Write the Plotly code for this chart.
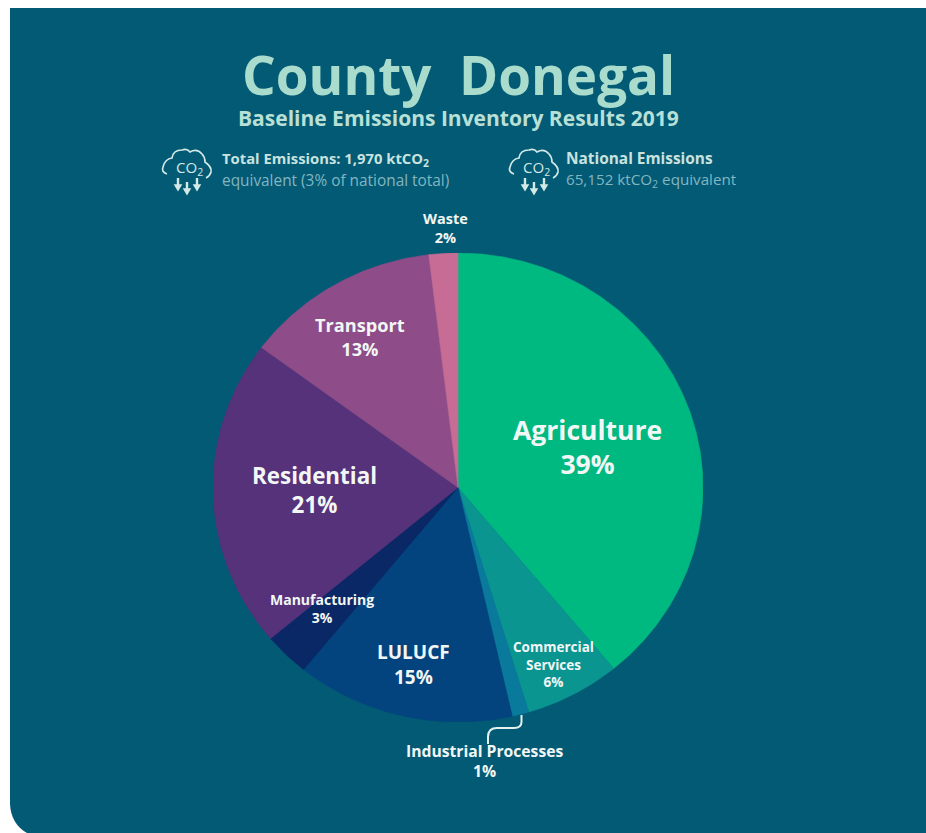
import numpy as np
import plotly.graph_objects as go

W, H = 926, 833
sectors = ["Agriculture", "Commercial Services", "Industrial Processes", "LULUCF",
           "Manufacturing", "Residential", "Transport", "Waste"]
slice_values = [39.0, 6.3, 1.1, 14.4, 3.0, 21.3, 12.9, 1.9]
printed_pct = ["39%", "6%", "1%", "15%", "3%", "21%", "13%", "2%"]
colors = ["#00b981", "#0a9590", "#0a7a9c", "#03447f", "#0a2766", "#56327a", "#8e4c88", "#c76c94"]
BG = "#025a75"
INK = "#f2f7f6"


def px(x):
    return x / W


def py(y):
    return 1 - y / H


def path(s):
    """Decoration path in pixel coordinates -> paper coordinates."""
    out, i, toks = [], 0, s.split()
    while i < len(toks):
        t = toks[i]
        if t.isalpha():
            out.append(t)
            i += 1
        else:
            out.append(f"{px(float(t)):.5f},{py(float(toks[i + 1])):.5f}")
            i += 2
    return " ".join(out)


# The reference pie is slightly wider than tall, so it is drawn on a unit circle
# whose axes are stretched to the pie's box.
cx, cy, rx, ry = 458, 487.5, 245, 234.5
edges = np.cumsum([0] + slice_values) / sum(slice_values) * 2 * np.pi
fig = go.Figure()
for name, pct, col, a, b in zip(sectors, printed_pct, colors, edges[:-1], edges[1:]):
    t = np.linspace(a, b, max(3, int((b - a) / 0.008)))
    fig.add_trace(go.Scatter(
        x=np.r_[0, np.sin(t), 0], y=np.r_[0, np.cos(t), 0], mode="lines", fill="toself",
        fillcolor=col, line=dict(color=col, width=0.6), name=name, text=pct,
        hoverinfo="name+text", showlegend=False))

shapes = [
    dict(type="path", xref="paper", yref="paper", fillcolor=BG, line=dict(width=0), layer="below",
         path=path("M 10 8 L 926 8 L 926 833 L 27 833 Q 11 824 10 804 Z")),
    dict(type="path", xref="paper", yref="paper", line=dict(color="#e4f1ee", width=2),
         path=path("M 521.5 715 L 521.5 722 Q 521.5 728 514 728 L 497 728 Q 488 728 488 737 L 488 744")),
]


def icon(ox, oy):
    c = "#d3e9e6"
    shapes.append(dict(type="path", xref="paper", yref="paper", line=dict(color=c, width=1.7),
        path=path(f"M {ox+17} {oy+34} Q {ox+11} {oy+32} {ox+13} {oy+27} Q {ox+15} {oy+19} {ox+22} {oy+18} "
                  f"Q {ox+23} {oy+10} {ox+32} {oy+10} Q {ox+37} {oy+8} {ox+40} {oy+12} "
                  f"Q {ox+47} {oy+8} {ox+52} {oy+14} Q {ox+55} {oy+17} {ox+55} {oy+22} "
                  f"Q {ox+62} {oy+27} {ox+61} {oy+32} Q {ox+60} {oy+36} {ox+56} {oy+38}")))
    for dx, top in ((28, 38), (37, 42), (47, 38)):
        shapes.append(dict(type="path", xref="paper", yref="paper", line=dict(color=c, width=2.4),
            path=path(f"M {ox+dx} {oy+top} L {ox+dx} {oy+top+8}")))
        shapes.append(dict(type="path", xref="paper", yref="paper", line=dict(color=c, width=1.5), fillcolor=c,
            path=path(f"M {ox+dx-3} {oy+top+7} L {ox+dx+3} {oy+top+7} L {ox+dx} {oy+top+12} Z")))


icon(150, 140)
icon(497, 140)

anns = []


def text(x, y, s, size, color=INK, bold=True, anchor="center"):
    anns.append(dict(x=px(x), y=py(y), xref="paper", yref="paper", text=f"<b>{s}</b>" if bold else s,
                     showarrow=False, xanchor=anchor, yanchor="middle", align=anchor,
                     font=dict(family="Open Sans", size=size, color=color)))


text(458, 74, "County&nbsp;&nbsp;Donegal", 53, "#a9dccd")
text(458, 118, "Baseline Emissions Inventory Results 2019", 21, "#b9e0d6")
for ox in (150, 497):
    text(ox + 39, 168, "CO<sub>2</sub>", 15, "#d3e9e6", bold=False)
text(220, 159, "Total Emissions: 1,970 ktCO<sub>2</sub>", 14.8, "#c8e3df", anchor="left")
text(220, 181, "equivalent (3% of national total)", 15.4, "#82b6c0", bold=False, anchor="left")
text(564, 158, "National Emissions", 15.4, "#c8e3df", anchor="left")
text(564, 180, "65,152 ktCO<sub>2</sub> equivalent", 15.2, "#82b6c0", bold=False, anchor="left")


def label(x, y, lines, size):
    text(x, y, "<br>".join(lines), size)


label(587, 447, (sectors[0], printed_pct[0]), 26.5)
label(314, 490, (sectors[5], printed_pct[5]), 22.4)
label(360, 336.5, (sectors[6], printed_pct[6]), 18.2)
label(413, 664, (sectors[3], printed_pct[3]), 19)
label(445, 228.5, (sectors[7], printed_pct[7]), 14.5)
label(322, 608, (sectors[4], printed_pct[4]), 14)
label(553, 664, ("Commercial", "Services", printed_pct[1]), 13.5)
label(484.5, 761, (sectors[2], printed_pct[2]), 15.7)

axis = dict(visible=False, range=[-1, 1], fixedrange=True)
fig.update_layout(
    width=W, height=H, autosize=False, margin=dict(l=0, r=0, t=0, b=0),
    paper_bgcolor="#ffffff", plot_bgcolor="rgba(0,0,0,0)",
    xaxis=dict(axis, domain=[px(cx - rx), px(cx + rx)]),
    yaxis=dict(axis, domain=[py(cy + ry), py(cy - ry)]),
    shapes=shapes, annotations=anns)
fig.write_html("out.html", config=dict(displayModeBar=False),
               post_script="document.body.style.margin='0';")
